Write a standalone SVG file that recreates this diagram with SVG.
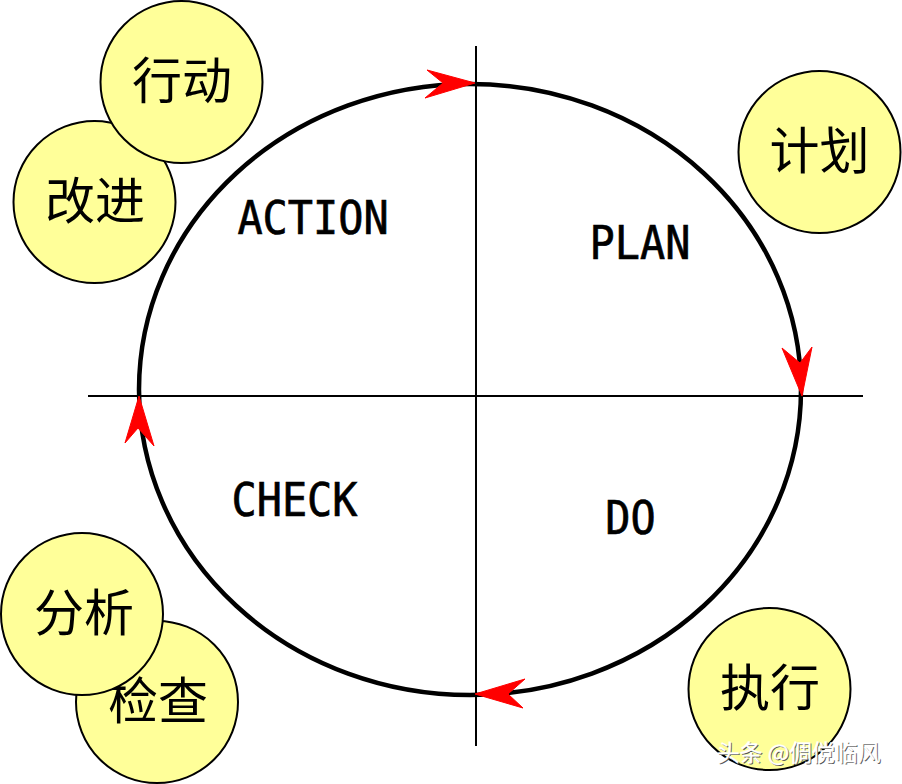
<svg xmlns="http://www.w3.org/2000/svg" width="902" height="784" viewBox="0 0 902 784">
<style>
.c{fill:#ffff99;stroke:#000;stroke-width:2}
.z{font-family:"Noto Sans CJK SC","Noto Sans",sans-serif;font-size:50px;fill:#000;text-anchor:middle}
.l{font-family:"DejaVu Sans Mono","Liberation Mono",monospace;font-size:46px;fill:#000;stroke:#000;stroke-width:0.7;text-anchor:middle}
.a{fill:#ff0000;stroke:#ff0000;stroke-width:1;stroke-linejoin:round}
.w{font-family:"Noto Sans CJK SC","Noto Sans",sans-serif;font-size:22.8px;text-anchor:start}
</style>
<rect width="902" height="784" fill="#ffffff"/>
<g id="connectors">
<ellipse cx="470" cy="389.5" rx="331" ry="305.5" fill="none" stroke="#000" stroke-width="4.5"/>
<line x1="88" y1="396" x2="863" y2="396" stroke="#000" stroke-width="2"/>
<line x1="476" y1="46" x2="476" y2="746" stroke="#000" stroke-width="2"/>
<polygon class="a" points="475,83 427,70 443,83 425,98"/>
<polygon class="a" points="802,396 782,348 800,363 812,347"/>
<polygon class="a" points="475,694 525,679 508,694 523,708"/>
<polygon class="a" points="139,396 125,443 138,428 154,446"/>
</g>
<g id="n-gaijin"><circle class="c" cx="94.500" cy="202" r="81"/><text class="z" x="95" y="219">改进</text></g>
<g id="n-xingdong"><circle class="c" cx="181.500" cy="82" r="81"/><text class="z" x="182" y="99">行动</text></g>
<g id="n-jihua"><circle class="c" cx="819.500" cy="152" r="81"/><text class="z" x="819.500" y="169">计划</text></g>
<g id="n-jiancha"><circle class="c" cx="157" cy="702" r="81"/><text class="z" x="158" y="719">检查</text></g>
<g id="n-fenxi"><circle class="c" cx="82" cy="614" r="81"/><text class="z" x="84" y="631">分析</text></g>
<g id="n-zhixing"><circle class="c" cx="769.500" cy="689" r="81"/><text class="z" x="770" y="706">执行</text></g>
<g id="labels">
<text class="l" transform="translate(313 234) scale(0.91 1)">ACTION</text>
<text class="l" transform="translate(640 259) scale(0.91 1)">PLAN</text>
<text class="l" transform="translate(294.500 516) scale(0.91 1)">CHECK</text>
<text class="l" transform="translate(630.500 534) scale(0.91 1)">DO</text>
</g>
<g id="watermark">
<text class="w" x="717" y="761" fill="#555555" dx="1" dy="1">头条 @倜傥临风</text>
<text class="w" x="717" y="761" fill="#ffffff" stroke="#ffffff" stroke-width="0.3">头条 @倜傥临风</text>
</g>
</svg>
